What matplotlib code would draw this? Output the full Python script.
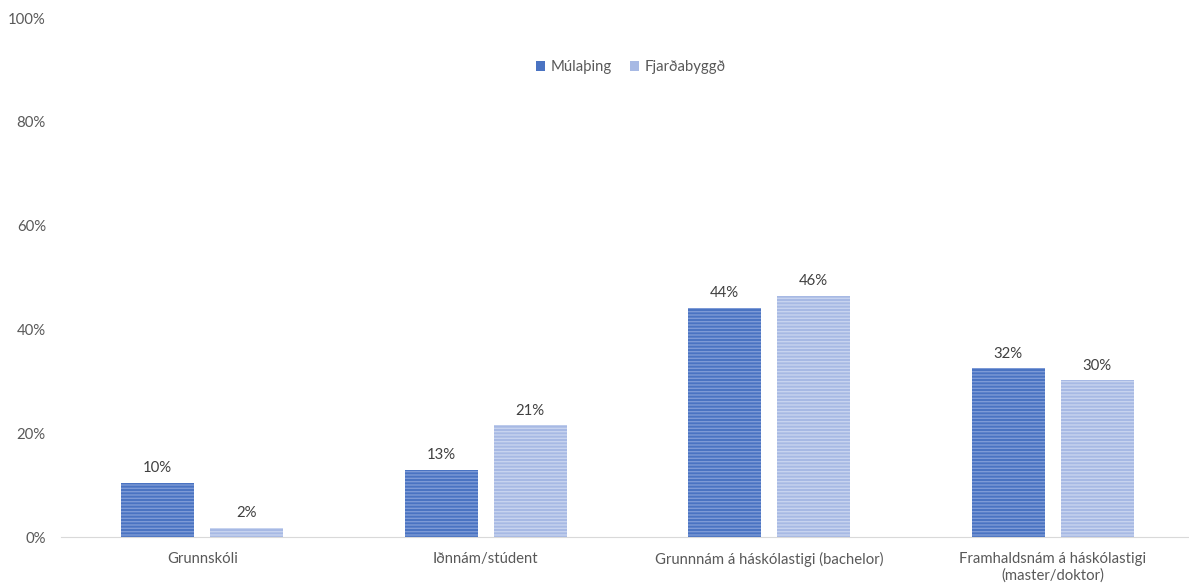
import numpy as np
import matplotlib.pyplot as plt
from matplotlib.ticker import PercentFormatter
import matplotlib as mpl

plt.rcParams['font.family'] = ['Lato', 'DejaVu Sans']
mpl.rcParams['hatch.linewidth'] = 1.0

# data
categories = ['Grunnskóli', 'Iðnnám/stúdent', 'Grunnnám á háskólastigi (bachelor)',
              'Framhaldsnám á háskólastigi\n(master/doktor)']
series_names = ['Múlaþing', 'Fjarðabyggð']
mulathing = [10.4, 12.9, 44.1, 32.5]
fjardabyggd = [1.7, 21.5, 46.4, 30.2]
labels_m = ['10%', '13%', '44%', '32%']
labels_f = ['2%', '21%', '46%', '30%']

fig = plt.figure(figsize=(11.89, 5.85), dpi=100)
ax = fig.add_axes([60.5 / 1189, 0.082, 1134 / 1189, 0.887])

x = np.arange(len(categories))
w = 0.258
off = 0.157

face_cols = ['#4a73c2', '#a7b9e4']
hatch_cols = ['#7d9ad6', '#c7d3ef']
tick_col = '#595959'
fs = 10.7

for vals, labs, sgn, fc, hc, name in zip([mulathing, fjardabyggd], [labels_m, labels_f],
                                         [-1, 1], face_cols, hatch_cols, series_names):
    bars = ax.bar(x + sgn * off, vals, w, color=fc, edgecolor=hc, hatch='-----',
                  linewidth=0, label=name)
    for b, l in zip(bars, labs):
        ax.text(b.get_x() + b.get_width() / 2, b.get_height() + 1.5, l,
                ha='center', va='bottom', fontsize=fs, color='#404040')

ax.set_ylim(0, 100)
ax.set_xlim(-0.5, 3.5)
ax.yaxis.set_major_formatter(PercentFormatter(decimals=0))
ax.set_yticks(range(0, 101, 20))
ax.set_xticks(x)
ax.set_xticklabels(categories)
ax.tick_params(axis='both', length=0, labelsize=fs, colors=tick_col)
ax.tick_params(axis='y', pad=10.5)
ax.tick_params(axis='x', pad=11)
for s in ['top', 'right', 'left']:
    ax.spines[s].set_visible(False)
ax.spines['bottom'].set_color('#d9d9d9')

leg = ax.legend(loc='center', bbox_to_anchor=(0.503, 0.905), ncol=2, frameon=False,
                fontsize=fs, handlelength=0.6, handleheight=0.6, handletextpad=0.4,
                columnspacing=1.2, labelcolor=tick_col)
for h, fc in zip(leg.legend_handles, face_cols):
    h.set_hatch(None)
    h.set_facecolor(fc)

fig.savefig('out.png', dpi=100)
